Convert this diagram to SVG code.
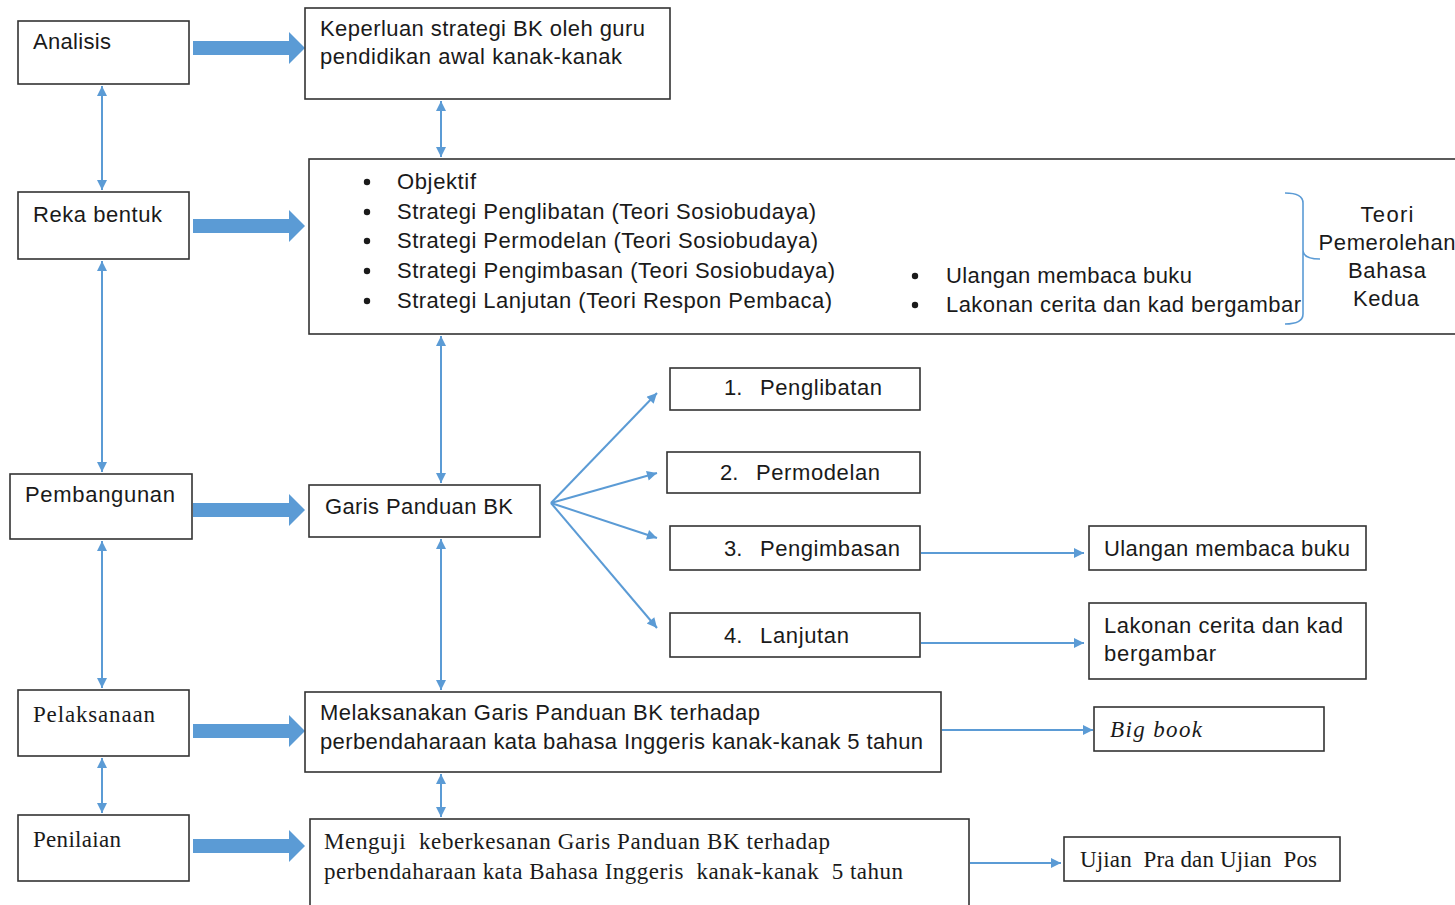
<svg xmlns="http://www.w3.org/2000/svg" width="1455" height="905" viewBox="0 0 1455 905">
<style>
.box{fill:#fff;stroke:#333;stroke-width:1.6}
.sans{font-family:"Liberation Sans",Arial,sans-serif;font-size:22px;fill:#1a1a1a}
.serif{font-family:"Liberation Serif","Times New Roman",serif;font-size:23px;fill:#1a1a1a}
.con{fill:none;stroke:#5B9BD5;stroke-width:2;marker-end:url(#ah)}
.dbl{marker-start:url(#ah)}
.blk{fill:#5B9BD5}
.brace{fill:none;stroke:#5B9BD5;stroke-width:1.6}
</style>
<defs>
<marker id="ah" viewBox="0 0 10 10" refX="10" refY="5" markerWidth="12" markerHeight="10" markerUnits="userSpaceOnUse" orient="auto-start-reverse">
<path d="M0,0 L10,5 L0,10 z" fill="#5B9BD5"/>
</marker>
<path id="blkarrow" d="M193,-7 H289 V-16 L305,0 L289,16 V7 H193 Z"/>
</defs>
<rect width="1455" height="905" fill="#fff"/>

<g id="connectors">
<use href="#blkarrow" class="blk" transform="translate(0,48)"/>
<use href="#blkarrow" class="blk" transform="translate(0,226)"/>
<use href="#blkarrow" class="blk" transform="translate(0,510)"/>
<use href="#blkarrow" class="blk" transform="translate(0,731)"/>
<use href="#blkarrow" class="blk" transform="translate(0,846)"/>
<line class="con dbl" x1="102" y1="86" x2="102" y2="190"/>
<line class="con dbl" x1="102" y1="261" x2="102" y2="472"/>
<line class="con dbl" x1="102" y1="541" x2="102" y2="688"/>
<line class="con dbl" x1="102" y1="758" x2="102" y2="813"/>
<line class="con dbl" x1="441" y1="101" x2="441" y2="157"/>
<line class="con dbl" x1="441" y1="336" x2="441" y2="483"/>
<line class="con dbl" x1="441" y1="539" x2="441" y2="690"/>
<line class="con dbl" x1="441" y1="774" x2="441" y2="817"/>
<line class="con" x1="551" y1="503" x2="657" y2="393"/>
<line class="con" x1="551" y1="503" x2="657" y2="473"/>
<line class="con" x1="551" y1="503" x2="657" y2="538"/>
<line class="con" x1="551" y1="503" x2="657" y2="628"/>
<line class="con" x1="921" y1="553" x2="1084" y2="553"/>
<line class="con" x1="921" y1="643" x2="1084" y2="643"/>
<line class="con" x1="942" y1="730" x2="1093" y2="730"/>
<line class="con" x1="970" y1="863" x2="1061" y2="863"/>
</g>

<g id="analisis">
<rect class="box" x="18" y="21" width="171" height="63"/>
<text class="sans" x="33" y="49" textLength="78">Analisis</text>
</g>
<g id="keperluan">
<rect class="box" x="305" y="8" width="365" height="91"/>
<text class="sans" x="320" y="36" textLength="325">Keperluan strategi BK oleh guru</text>
<text class="sans" x="320" y="64" textLength="302">pendidikan awal kanak-kanak</text>
</g>
<g id="reka-bentuk">
<rect class="box" x="18" y="192" width="171" height="67"/>
<text class="sans" x="33" y="222" textLength="129">Reka bentuk</text>
</g>
<g id="strategi">
<rect class="box" x="309" y="159" width="1160" height="175"/>
<path class="brace" d="M1285,193 Q1303,193 1303,203 V250 Q1303,259 1320,259 M1303,250 Q1303,259 1303,268 V314 Q1303,324 1285,324"/>
<g class="sans">
<circle cx="367" cy="182" r="3.2" fill="#1a1a1a"/>
<circle cx="367" cy="212" r="3.2" fill="#1a1a1a"/>
<circle cx="367" cy="241" r="3.2" fill="#1a1a1a"/>
<circle cx="367" cy="271" r="3.2" fill="#1a1a1a"/>
<circle cx="367" cy="301" r="3.2" fill="#1a1a1a"/>
<text x="397" y="189" textLength="79">Objektif</text>
<text x="397" y="219" textLength="419">Strategi Penglibatan (Teori Sosiobudaya)</text>
<text x="397" y="248" textLength="421">Strategi Permodelan (Teori Sosiobudaya)</text>
<text x="397" y="278" textLength="438">Strategi Pengimbasan (Teori Sosiobudaya)</text>
<text x="397" y="308" textLength="435">Strategi Lanjutan (Teori Respon Pembaca)</text>
<circle cx="915" cy="276" r="3.2" fill="#1a1a1a"/>
<circle cx="915" cy="305" r="3.2" fill="#1a1a1a"/>
<text x="946" y="283" textLength="246">Ulangan membaca buku</text>
<text x="946" y="312" textLength="355">Lakonan cerita dan kad bergambar</text>
<text x="1387" y="222" text-anchor="middle" textLength="53">Teori</text>
<text x="1387" y="250" text-anchor="middle" textLength="137">Pemerolehan</text>
<text x="1387" y="278" text-anchor="middle" textLength="78">Bahasa</text>
<text x="1386" y="306" text-anchor="middle" textLength="66">Kedua</text>
</g>
</g>
<g id="pembangunan">
<rect class="box" x="10" y="474" width="182" height="65"/>
<text class="sans" x="25" y="502" textLength="150">Pembangunan</text>
</g>
<g id="garis-panduan">
<rect class="box" x="309" y="485" width="231" height="52"/>
<text class="sans" x="325" y="514" textLength="188">Garis Panduan BK</text>
</g>
<g id="penglibatan">
<rect class="box" x="670" y="368" width="250" height="42"/>
<text class="sans" x="724" y="395">1.</text>
<text class="sans" x="760" y="395" textLength="122">Penglibatan</text>
</g>
<g id="permodelan">
<rect class="box" x="667" y="452" width="253" height="41"/>
<text class="sans" x="720" y="480">2.</text>
<text class="sans" x="756" y="480" textLength="124">Permodelan</text>
</g>
<g id="pengimbasan">
<rect class="box" x="670" y="526" width="250" height="44"/>
<text class="sans" x="724" y="556">3.</text>
<text class="sans" x="760" y="556" textLength="140">Pengimbasan</text>
</g>
<g id="lanjutan">
<rect class="box" x="670" y="613" width="250" height="44"/>
<text class="sans" x="724" y="643">4.</text>
<text class="sans" x="760" y="643" textLength="89">Lanjutan</text>
</g>
<g id="ulangan">
<rect class="box" x="1089" y="526" width="277" height="44"/>
<text class="sans" x="1104" y="556" textLength="246">Ulangan membaca buku</text>
</g>
<g id="lakonan">
<rect class="box" x="1089" y="603" width="277" height="76"/>
<text class="sans" x="1104" y="633" textLength="239">Lakonan cerita dan kad</text>
<text class="sans" x="1104" y="661" textLength="112">bergambar</text>
</g>
<g id="pelaksanaan">
<rect class="box" x="18" y="690" width="171" height="66"/>
<text class="serif" x="33" y="722" textLength="122">Pelaksanaan</text>
</g>
<g id="melaksanakan">
<rect class="box" x="305" y="692" width="636" height="80"/>
<text class="sans" x="320" y="720" textLength="440">Melaksanakan Garis Panduan BK terhadap</text>
<text class="sans" x="320" y="749" textLength="603">perbendaharaan kata bahasa Inggeris kanak-kanak 5 tahun</text>
</g>
<g id="big-book">
<rect class="box" x="1094" y="707" width="230" height="44"/>
<text class="serif" x="1110" y="737" font-style="italic" textLength="92">Big book</text>
</g>
<g id="penilaian">
<rect class="box" x="18" y="815" width="171" height="66"/>
<text class="serif" x="33" y="847" textLength="88">Penilaian</text>
</g>
<g id="menguji">
<rect class="box" x="310" y="819" width="659" height="100"/>
<text class="serif" x="324" y="849" textLength="506" xml:space="preserve">Menguji  keberkesanan Garis Panduan BK terhadap</text>
<text class="serif" x="324" y="879" textLength="579" xml:space="preserve">perbendaharaan kata Bahasa Inggeris  kanak-kanak  5 tahun</text>
</g>
<g id="ujian">
<rect class="box" x="1064" y="837" width="276" height="44"/>
<text class="serif" x="1080" y="867" textLength="237" xml:space="preserve">Ujian  Pra dan Ujian  Pos</text>
</g>
</svg>
